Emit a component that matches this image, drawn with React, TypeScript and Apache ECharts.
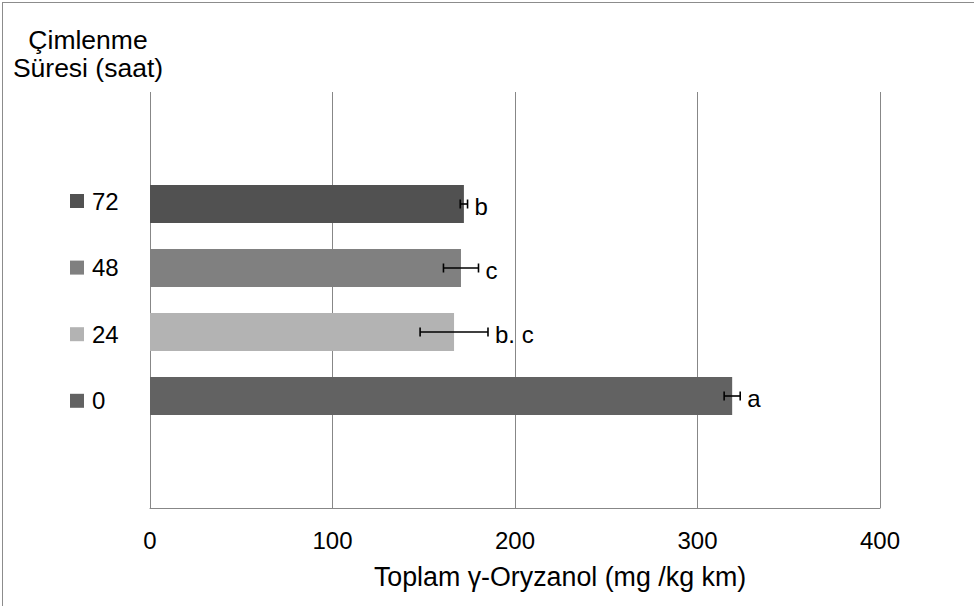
import React, { useEffect, useRef } from "react";
import * as echarts from "echarts";

// Germination time (hours), listed top to bottom — each is a series
const hours = ["72", "48", "24", "0"];
// Total γ-oryzanol means and error (mg/kg)
const means = [172, 170.4, 166.6, 319];
const errors = [2, 9.6, 18.6, 4.4];
const letters = ["b", "c", "b. c", "a"];
const colors = ["#515151", "#808080", "#b3b3b3", "#626262"];
const xTicks = { min: 0, max: 400, interval: 100 };

const FONT = "'Liberation Sans', Arial, sans-serif";
const BAR_W = 38;
const BAR_GAP = 26;

export default function App() {
  const ref = useRef<HTMLDivElement>(null);
  useEffect(() => {
    document.body.style.margin = "0";
    const chart = echarts.init(ref.current!, null, { renderer: "svg" });
    const barSeries = hours.map((h, i) => ({
      name: h,
      type: "bar",
      data: [means[i]],
      barWidth: BAR_W,
      barGap: `${(BAR_GAP / BAR_W) * 100}%`,
      itemStyle: { color: colors[i] },
      z: 2,
    }));
    const n = hours.length;
    const errData = hours.map((h, i) => [i, means[i], errors[i]]);
    chart.setOption({
      animation: false,
      textStyle: { fontFamily: FONT },
      grid: { left: 150, right: 94, top: 92, bottom: 98, containLabel: false },
      title: {
        text: "Çimlenme\nSüresi (saat)",
        left: 88,
        top: 26,
        padding: 0,
        textAlign: "center",
        textStyle: { fontFamily: FONT, fontSize: 26.5, fontWeight: "normal", color: "#000", lineHeight: 28 },
      },
      legend: {
        orient: "vertical",
        left: 65,
        top: 184,
        data: hours,
        icon: "rect",
        itemWidth: 14,
        itemHeight: 14,
        itemGap: 42.6,
        textStyle: { fontFamily: FONT, fontSize: 24, color: "#000", lineHeight: 24, padding: [0, 0, 0, 3] },
        selectedMode: false,
      },
      xAxis: {
        type: "value",
        min: xTicks.min,
        max: xTicks.max,
        interval: xTicks.interval,
        name: "Toplam γ-Oryzanol (mg /kg km)",
        nameLocation: "middle",
        nameGap: 55,
        nameTextStyle: { fontFamily: FONT, fontSize: 26.8, color: "#000", padding: [0, 0, 0, 90] },
        axisLine: { show: true, lineStyle: { color: "#878787", width: 1 } },
        axisTick: { show: false },
        axisLabel: { fontFamily: FONT, fontSize: 24, color: "#000", margin: 20 },
        splitLine: { show: true, lineStyle: { color: "#878787", width: 1 } },
      },
      yAxis: {
        type: "category",
        data: [""],
        axisLine: { show: false },
        axisTick: { show: false },
        axisLabel: { show: false },
        splitLine: { show: false },
      },
      graphic: [
        { type: "line", shape: { x1: 2.5, y1: 2, x2: 2.5, y2: 606 }, style: { stroke: "#8c8c8c", lineWidth: 1 } },
        { type: "line", shape: { x1: 2, y1: 2.5, x2: 974, y2: 2.5 }, style: { stroke: "#8c8c8c", lineWidth: 1 } },
      ],
      series: [
        ...barSeries,
        {
          type: "custom",
          name: "err",
          data: errData,
          z: 5,
          renderItem: (params: any, api: any) => {
            const idx = api.value(0);
            const m = api.value(1);
            const e = api.value(2);
            const center = api.coord([0, 0])[1];
            const total = n * BAR_W + (n - 1) * BAR_GAP;
            const y = center - total / 2 + idx * (BAR_W + BAR_GAP) + BAR_W / 2;
            const xl = api.coord([m - e, 0])[0];
            const xr = api.coord([m + e, 0])[0];
            const cap = 4.5;
            const st = { stroke: "#000", lineWidth: 1.6 };
            return {
              type: "group",
              children: [
                { type: "line", shape: { x1: xl, y1: y, x2: xr, y2: y }, style: st },
                { type: "line", shape: { x1: xl, y1: y - cap, x2: xl, y2: y + cap }, style: st },
                { type: "line", shape: { x1: xr, y1: y - cap, x2: xr, y2: y + cap }, style: st },
                {
                  type: "text",
                  x: xr + 7,
                  y: y + 2.5,
                  style: {
                    text: letters[idx],
                    fontFamily: FONT,
                    fontSize: 24,
                    fill: "#000",
                    textAlign: "left",
                    textVerticalAlign: "middle",
                  },
                },
              ],
            };
          },
        },
      ],
    });
    return () => chart.dispose();
  }, []);
  return <div ref={ref} style={{ width: 974, height: 606 }} />;
}
